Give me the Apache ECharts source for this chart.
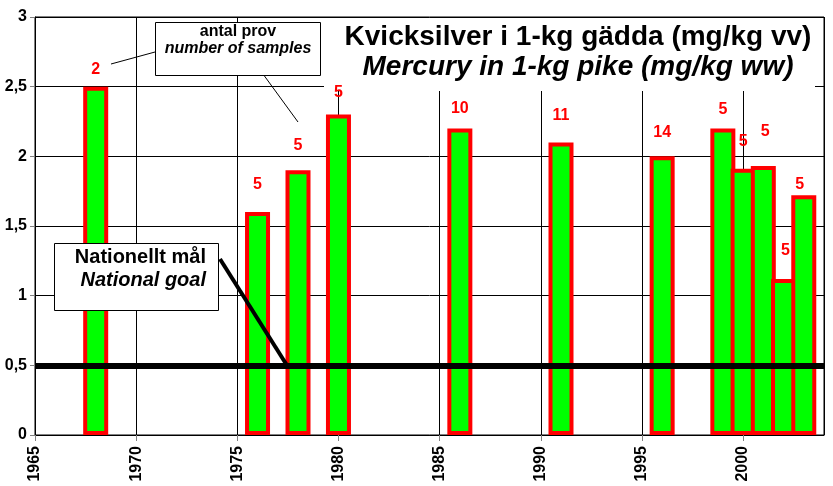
<!DOCTYPE html>
<html>
<head>
<meta charset="utf-8">
<script src="https://cdn.jsdelivr.net/npm/echarts@6/dist/echarts.min.js"></script>
<style>html,body{margin:0;padding:0;background:#fff}#c{width:833px;height:486px}</style>
</head>
<body>
<div id="c"></div>
<script>
// ---- data ----
const years   = [1968, 1976, 1978, 1980, 1986, 1991, 1996, 1999, 2000, 2001, 2002, 2003];
const mercury = [2.5, 1.6, 1.9, 2.3, 2.2, 2.1, 2.0, 2.2, 1.91, 1.93, 1.12, 1.72];
const samples = [2, 5, 5, 5, 10, 11, 14, 5, 5, 5, 5, 5];
const nationalGoal = 0.5;
const titleLines = ['Kvicksilver i 1-kg gädda (mg/kg vv)', 'Mercury in 1-kg pike (mg/kg ww)'];
const samplesNote = ['antal prov', 'number of samples'];
const goalNote = ['Nationellt mål', 'National goal'];

// ---- label layout (px) ----
const labelLift = [17, 27, 25, 22, 20, 27, 24, 19, 27, 34, 28, 11];
const labelShiftX = [0, 0, 0, 0, 0, 0, 0, 0, 0, 2, 2, -4];

const FONT = "'Liberation Sans', Arial, sans-serif";
const chart = echarts.init(document.getElementById('c'), null, {renderer: 'canvas'});

const barData = years.map((y, i) => ({
  value: [y, mercury[i]],
  label: {
    show: true,
    position: 'top',
    distance: labelLift[i] - 8,
    offset: [labelShiftX[i], 0],
    formatter: String(samples[i]),
    color: '#ff0000',
    fontWeight: 'bold',
    fontSize: 16,
    fontFamily: FONT,
    backgroundColor: i === 10 ? '#fff' : 'transparent'
  }
}));

chart.setOption({
  animation: false,
  backgroundColor: '#fff',
  grid: {left: 35, right: 9, top: 17, bottom: 51, show: true, borderColor: '#000', borderWidth: 1, backgroundColor: 'transparent'},
  xAxis: {
    type: 'value', min: 1965, max: 2004, interval: 5,
    axisLine: {show: true, onZero: false, lineStyle: {color: '#000', width: 1}},
    axisTick: {show: true, length: 6, lineStyle: {color: '#808080'}},
    splitLine: {show: true, lineStyle: {color: '#000', width: 1}},
    axisLabel: {
      rotate: 90, margin: 11, color: '#000', fontWeight: 'bold', fontSize: 16, fontFamily: FONT,
      showMaxLabel: false,
      formatter: v => (v % 5 === 0 && v <= 2000) ? String(v) : ''
    }
  },
  yAxis: {
    type: 'value', min: 0, max: 3, interval: 0.5,
    axisLine: {show: true, lineStyle: {color: '#000', width: 1}},
    axisTick: {show: true, length: 5, lineStyle: {color: '#808080'}},
    splitLine: {show: true, lineStyle: {color: '#000', width: 1}},
    axisLabel: {
      margin: 8, color: '#000', fontWeight: 'bold', fontSize: 16, fontFamily: FONT,
      formatter: v => String(v).replace('.', ',')
    }
  },
  series: [{
    type: 'bar',
    z: 3,
    barWidth: 25,
    itemStyle: {color: '#00ff00', borderColor: '#ff0000', borderWidth: 4},
    data: barData,
    markLine: {
      silent: true,
      symbol: 'none',
      label: {show: false},
      lineStyle: {color: '#000', width: 6, type: 'solid'},
      data: [{yAxis: nationalGoal}]
    }
  }],
  graphic: [
    // title box
    {type: 'rect', z: 1, shape: {x: 324, y: 18, width: 491, height: 73}, style: {fill: '#fff'}},
    {type: 'text', z: 20, style: {x: 578, y: 37, text: titleLines[0], textAlign: 'center', textVerticalAlign: 'middle', font: 'bold 28px ' + FONT, fill: '#000'}},
    {type: 'text', z: 20, style: {x: 578, y: 67, text: titleLines[1], textAlign: 'center', textVerticalAlign: 'middle', font: 'italic bold 28px ' + FONT, fill: '#000'}},
    // samples note
    {type: 'line', z: 20, shape: {x1: 111, y1: 64, x2: 155, y2: 52}, style: {stroke: '#000', lineWidth: 1}},
    {type: 'line', z: 20, shape: {x1: 263, y1: 74, x2: 298, y2: 122}, style: {stroke: '#000', lineWidth: 1}},
    {type: 'rect', z: 20, shape: {x: 155.5, y: 22.5, width: 165, height: 53}, style: {fill: '#fff', stroke: '#000', lineWidth: 1}},
    {type: 'text', z: 21, style: {x: 238, y: 32, text: samplesNote[0], textAlign: 'center', textVerticalAlign: 'middle', font: 'bold 16px ' + FONT, fill: '#000'}},
    {type: 'text', z: 21, style: {x: 238, y: 49, text: samplesNote[1], textAlign: 'center', textVerticalAlign: 'middle', font: 'italic bold 16px ' + FONT, fill: '#000'}},
    // national goal note
    {type: 'line', z: 20, shape: {x1: 220, y1: 259, x2: 288, y2: 367}, style: {stroke: '#000', lineWidth: 4}},
    {type: 'rect', z: 20, shape: {x: 54.5, y: 243.5, width: 164, height: 67}, style: {fill: '#fff', stroke: '#000', lineWidth: 1}},
    {type: 'text', z: 21, style: {x: 206, y: 257, text: goalNote[0], textAlign: 'right', textVerticalAlign: 'middle', font: 'bold 20px ' + FONT, fill: '#000'}},
    {type: 'text', z: 21, style: {x: 206, y: 280, text: goalNote[1], textAlign: 'right', textVerticalAlign: 'middle', font: 'italic bold 20px ' + FONT, fill: '#000'}}
  ]
});
</script>
</body>
</html>
